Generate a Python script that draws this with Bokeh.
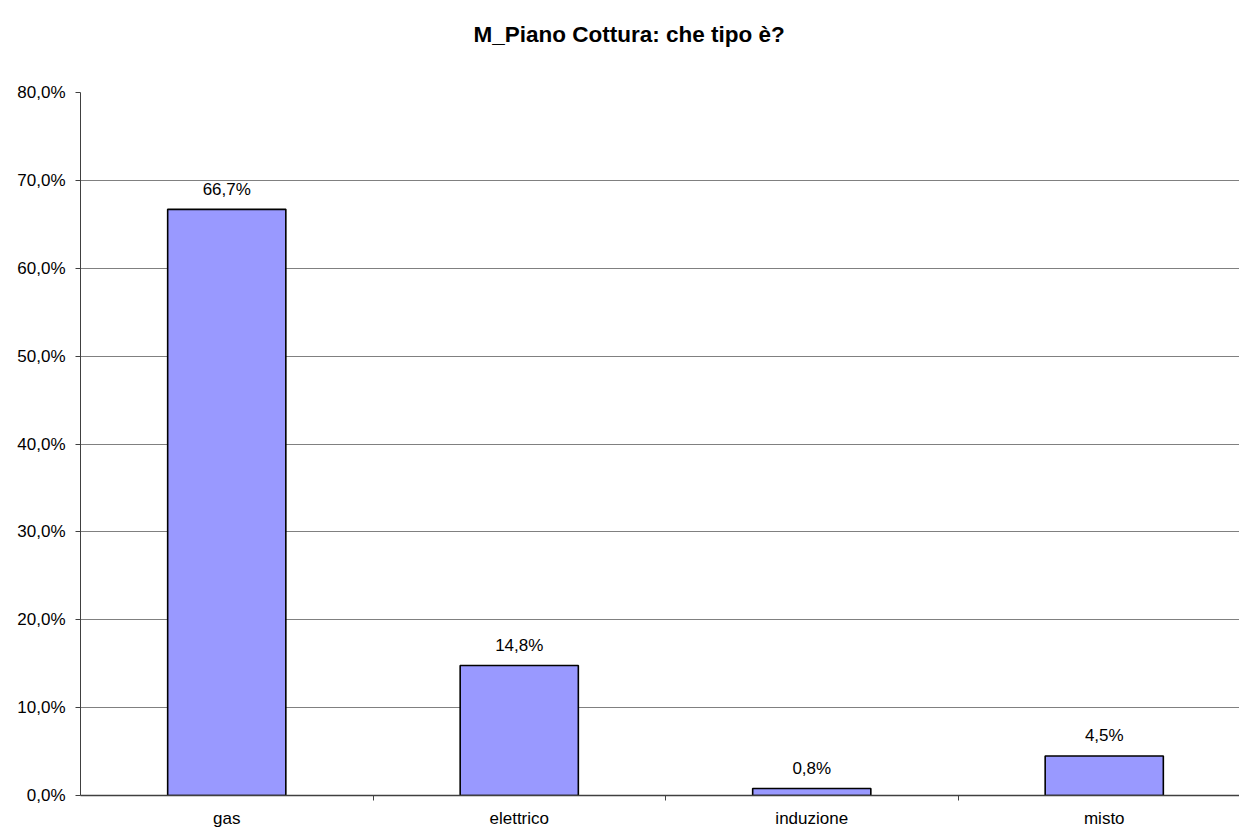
from bokeh.plotting import figure
from bokeh.models import Range1d, FixedTicker, CustomJSTickFormatter, ColumnDataSource, Title
from bokeh.core.properties import value
from bokeh.embed import file_html
from bokeh.resources import INLINE

title_text = "M_Piano Cottura: che tipo è?"
categories = ["gas", "elettrico", "induzione", "misto"]
values = [0.667, 0.148, 0.008, 0.045]
y_ticks = [0.0, 0.1, 0.2, 0.3, 0.4, 0.5, 0.6, 0.7, 0.8]

FONT = "Liberation Sans"
W, H = 1239, 830
LEFT, TOP, BOTTOM = 80, 92, 35
CAT_PX = 292.5

xs = [i + 0.5 for i in range(len(categories))]
labels = [("%.1f" % (v * 100)).replace(".", ",") + "%" for v in values]
src = ColumnDataSource(dict(x=xs, top=values, label=labels))

p = figure(width=W, height=H, output_backend="svg", toolbar_location=None,
           x_range=Range1d(0, (W - LEFT) / CAT_PX), y_range=Range1d(0, 0.8),
           min_border_left=LEFT, min_border_right=0, min_border_top=TOP,
           min_border_bottom=BOTTOM, outline_line_color=None,
           background_fill_color="white", border_fill_color="white")

# spacer panel between the frame and the chart title
p.add_layout(Title(text=" ", text_font=FONT, text_font_size="40px", standoff=0), "above")
p.add_layout(Title(text=title_text, align="left", offset=393, standoff=0,
                   text_font=FONT, text_font_size="22.5px", text_font_style="bold",
                   text_color="black"), "above")

p.vbar(x="x", top="top", width=0.404, bottom=0, source=src,
       fill_color="#9999FF", line_color="black", line_width=1.6)
p.text(x="x", y="top", text="label", source=src, text_align="center",
       text_baseline="alphabetic", y_offset=-20, text_font=value(FONT),
       text_font_size="17px", text_color="black")

# grid
p.xgrid.grid_line_color = None
p.ygrid.grid_line_color = "#808080"
p.ygrid.grid_line_width = 1
p.ygrid.ticker = FixedTicker(ticks=y_ticks)

# y axis
p.yaxis.ticker = FixedTicker(ticks=y_ticks)
p.yaxis.formatter = CustomJSTickFormatter(
    code="return (tick*100).toFixed(1).replace('.', ',') + '%';")
p.yaxis.major_tick_in = 0
p.yaxis.major_tick_out = 5
p.yaxis.minor_tick_line_color = None
p.yaxis.axis_line_color = "#404040"
p.yaxis.major_tick_line_color = "#404040"
p.yaxis.major_label_text_font = FONT
p.yaxis.major_label_text_font_size = "17px"
p.yaxis.major_label_text_color = "black"
p.yaxis.major_label_standoff = 10

# x axis
p.xaxis.ticker = FixedTicker(ticks=xs, minor_ticks=[1, 2, 3])
p.xaxis.major_label_overrides = {x: c for x, c in zip(xs, categories)}
p.xaxis.major_tick_line_color = None
p.xaxis.minor_tick_in = 0
p.xaxis.minor_tick_out = 5
p.xaxis.minor_tick_line_color = "#404040"
p.xaxis.axis_line_color = "#404040"
p.xaxis.axis_line_width = 1.5
p.xaxis.major_label_text_font = FONT
p.xaxis.major_label_text_font_size = "17px"
p.xaxis.major_label_text_color = "black"
p.xaxis.major_label_standoff = 7

open("out.html", "w").write(file_html(p, INLINE))
